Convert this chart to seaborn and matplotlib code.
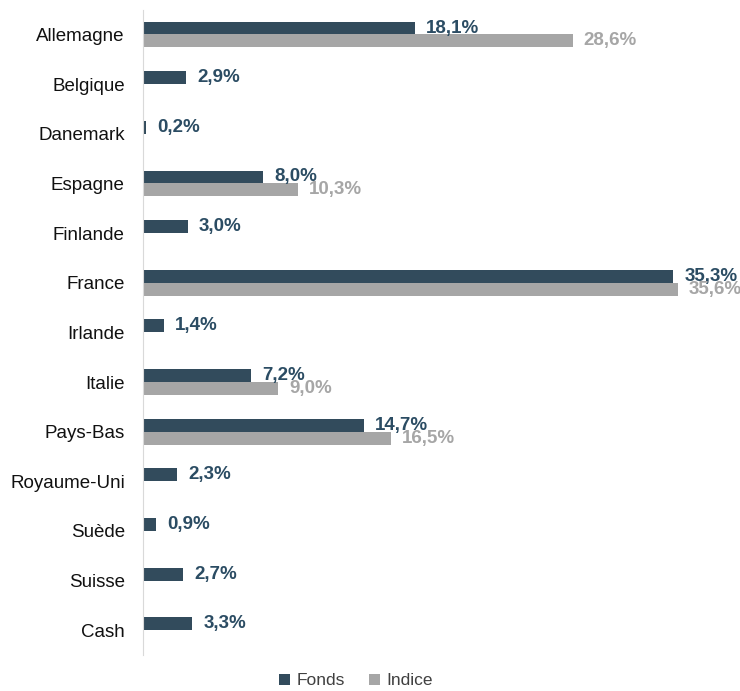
import seaborn as sns
import pandas as pd
import matplotlib.pyplot as plt

pays = ['Allemagne', 'Belgique', 'Danemark', 'Espagne', 'Finlande', 'France',
        'Irlande', 'Italie', 'Pays-Bas', 'Royaume-Uni', 'Suède', 'Suisse', 'Cash']
fonds = [18.1, 2.9, 0.2, 8.0, 3.0, 35.3, 1.4, 7.2, 14.7, 2.3, 0.9, 2.7, 3.3]
indice = [28.6, 0, 0, 10.3, 0, 35.6, 0, 9.0, 16.5, 0, 0, 0, 0]

df = pd.DataFrame({'pays': pays * 2,
                   'valeur': fonds + indice,
                   'serie': ['Fonds'] * len(pays) + ['Indice'] * len(pays)})

sns.set_style('white')
plt.rcParams['font.family'] = ['Liberation Sans', 'DejaVu Sans']

fig = plt.figure(figsize=(7.4, 6.91), dpi=100)
ax = fig.add_axes([0.193, 0.052, 0.78, 0.934])

couleurs = {'Fonds': '#2B4C63', 'Indice': '#A6A6A6'}
sns.barplot(data=df, y='pays', x='valeur', hue='serie', orient='h',
            palette=couleurs, width=0.52, linewidth=0, ax=ax, legend=True)

# etiquettes de valeurs
for cont, serie in zip(ax.containers, ['Fonds', 'Indice']):
    labels = [f'{b.get_width():.1f}%'.replace('.', ',') if b.get_width() > 0 else ''
              for b in cont]
    ax.bar_label(cont, labels=labels, padding=8, color=couleurs[serie],
                 fontsize=13.5, fontweight='bold')

ax.set_xlim(0, 38.4)
ax.set_ylim(12.5, -0.5)
ax.set_xlabel('')
ax.set_ylabel('')
ax.set_xticks([])
ax.tick_params(axis='y', length=0, labelsize=13.5, pad=13, labelcolor='#111111')
for s in ['top', 'right', 'bottom']:
    ax.spines[s].set_visible(False)
ax.spines['left'].set_color('#D9D9D9')

ax.legend(loc='center', bbox_to_anchor=(0.37, -0.04), ncol=2, frameon=False,
          fontsize=12.5, handlelength=0.6, handleheight=0.6, handletextpad=0.4,
          columnspacing=1.4, labelcolor='#404040')

plt.savefig('out.png', dpi=100)
